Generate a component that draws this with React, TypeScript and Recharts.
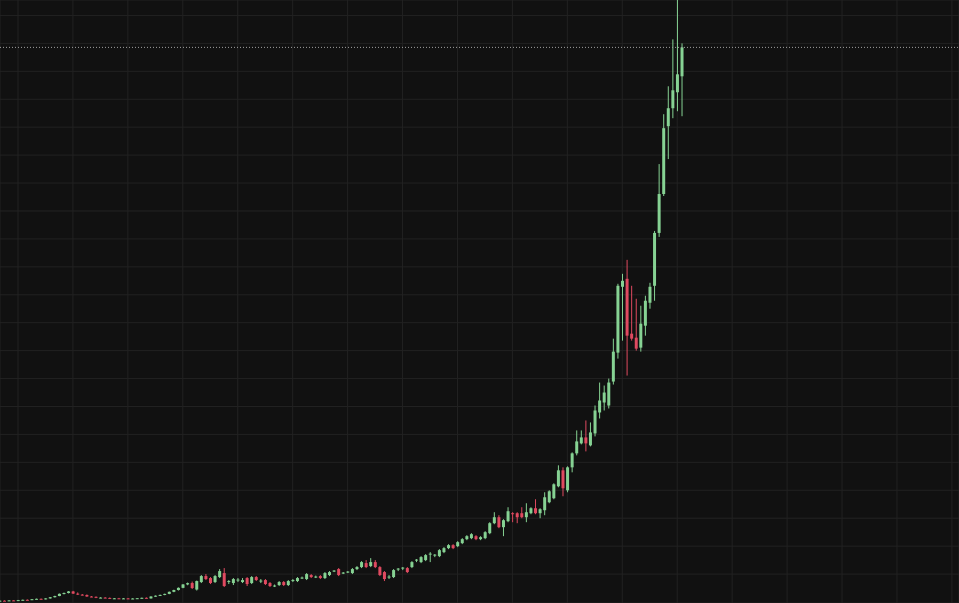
import {
  ComposedChart,
  Bar,
  XAxis,
  YAxis,
  CartesianGrid,
  ReferenceLine,
} from "recharts";

// weekly candles, oldest first (price in chart units)
const opens = [
  1.0, 1.3, 1.2, 1.6, 1.5, 1.9, 2.2, 2.1, 2.8, 3.2,
  2.8, 3.6, 4.8, 6.0, 8.2, 9.0, 10.6, 8.4, 7.4, 7.0,
  5.5, 5.2, 4.2, 4.4, 4.1, 3.3, 3.7, 3.4, 3.6, 3.2,
  3.5, 3.8, 4.2, 3.6, 5.5, 6.3, 7.1, 8.1, 10.2, 12.0,
  14.2, 17.6, 19, 12.5, 20, 26, 24, 20, 25, 29,
  20, 19, 22, 20, 24, 19, 25, 21, 22, 19,
  16, 17, 20, 17, 21.5, 21, 24, 23, 27, 25,
  26, 24, 27, 30.5, 33, 28.5, 30, 29, 33, 35,
  39, 36, 40, 35, 30, 24.5, 25, 32.5, 33.5, 34,
  35, 41.5, 40, 42, 47.5, 46.5, 46, 50, 54, 57,
  56, 59, 63, 64, 66, 63, 64, 69, 79, 85,
  75, 81, 89, 89, 89, 85, 89, 94, 89, 92,
  100, 104, 116, 132, 112, 135, 149, 159, 165, 157,
  169, 190, 200, 197, 221, 250, 316, 324, 269, 265,
  255, 277, 300, 317, 370, 409, 477, 495, 511, 527,
];

const highs = [
  1.6, 1.7, 1.8, 2.0, 2.1, 2.4, 2.6, 3.0, 3.4, 3.5,
  3.8, 5.0, 6.3, 8.5, 9.5, 11.0, 11.2, 9.6, 8.0, 7.6,
  6.0, 5.6, 4.8, 4.9, 4.5, 4.0, 4.1, 3.9, 4.0, 3.8,
  4.0, 4.4, 4.6, 5.8, 6.6, 7.4, 8.4, 10.5, 12.3, 14.6,
  18.0, 19.5, 20.5, 21.5, 27, 28, 25, 27, 33, 34,
  22, 24, 24, 24, 25, 26, 26, 23, 23, 20,
  17.5, 21, 21, 22, 23, 25, 25.5, 29, 28, 26.5,
  27, 30, 31, 32, 34, 30, 31, 34, 36, 41,
  42, 44, 42, 36, 31, 27, 33, 34, 35, 35,
  41, 43, 46, 48, 50, 48, 53, 55, 58, 58,
  61, 64, 67, 69, 67, 66, 71, 80, 90, 87,
  83, 95, 90, 90, 95, 99, 95, 103, 94, 110,
  112, 119, 137, 135, 136, 150, 172, 172, 182, 180,
  197, 220, 217, 224, 264, 319, 329, 343, 317, 304,
  297, 307, 320, 372, 439, 489, 517, 564, 615, 560,
];

const lows = [
  0.6, 1.0, 1.0, 1.3, 1.3, 1.6, 1.9, 1.9, 2.5, 2.6,
  2.6, 3.4, 4.5, 5.8, 7.6, 8.6, 8.0, 7.0, 6.6, 5.2,
  4.8, 3.9, 3.8, 3.9, 3.0, 3.0, 3.2, 3.0, 3.1, 2.9,
  3.2, 3.4, 3.4, 3.4, 5.2, 6.0, 6.8, 7.8, 9.8, 11.5,
  13.8, 16.8, 13, 11.5, 19, 22, 18, 19, 24, 15,
  18, 17, 20, 19, 16, 18, 21, 19, 17, 15,
  15, 16, 16, 16, 20, 20, 23, 22, 24, 24,
  23, 23, 26, 30, 26, 28, 29, 28, 32, 34,
  34, 35, 34, 26, 21, 23, 24, 31, 32, 29,
  34, 40, 39, 41, 40, 45, 45, 49, 53, 53,
  55, 58, 62, 63, 62, 62, 63, 68, 78, 74,
  66, 80, 80, 79, 84, 80, 88, 88, 84, 87,
  99, 103, 115, 106, 110, 130, 147, 158, 151, 156,
  166, 184, 192, 194, 218, 244, 262, 227, 262, 252,
  251, 267, 294, 302, 366, 407, 444, 485, 492, 487,
];

const closes = [
  1.3, 1.2, 1.6, 1.5, 1.9, 2.2, 2.1, 2.8, 3.2, 2.8,
  3.6, 4.8, 6.0, 8.2, 9.0, 10.6, 8.4, 7.4, 7.0, 5.5,
  5.2, 4.2, 4.4, 4.1, 3.3, 3.7, 3.4, 3.6, 3.2, 3.5,
  3.8, 4.2, 3.6, 5.5, 6.3, 7.1, 8.1, 10.2, 12.0, 14.2,
  17.6, 18.9, 14, 21, 26, 23, 19, 26, 31, 16,
  21, 23, 22.5, 22, 18, 25, 22, 21.5, 18, 16,
  16.5, 20, 17, 21, 22, 24, 24.5, 28, 25, 25.5,
  24, 29, 30, 31.5, 27, 29.5, 30.5, 33, 35, 40,
  35, 40, 35, 27, 23, 25.5, 32, 33.5, 34.5, 30,
  40, 42.5, 45, 47, 48.5, 47.5, 52, 54, 57, 54,
  60, 63, 66, 68, 63, 65, 70, 79, 85, 75,
  82, 91, 88, 85, 85, 90, 94, 89, 93, 105,
  111, 118, 132, 114, 135, 149, 161, 165, 159, 170,
  192, 202, 210, 220, 251, 317, 322, 267, 264, 254,
  279, 302, 316, 370, 409, 475, 495, 513, 529, 556,
];

// grid positions (week index / price)
const xTicks = [4, 16, 28, 40, 52, 64, 76, 88, 100, 112, 124, 136, 148, 160, 172, 184, 196, 208];
const yTicks = [0, 28, 56, 84, 112, 140, 168, 196, 224, 252, 280, 308, 336, 364, 392, 420, 448, 476, 504, 532, 560, 588];

const UP = "#86d293";
const DOWN = "#e04a60";

const data = opens.map((open, i) => ({
  i,
  open,
  close: closes[i],
  high: highs[i],
  low: lows[i],
  range: [lows[i], highs[i]],
}));

function Candle(props: any) {
  const { x, y, width, height, payload } = props;
  const { open, close, high, low } = payload;
  const color = close >= open ? UP : DOWN;
  const top = Math.min(y, y + height);
  const h = Math.abs(height);
  const ratio = h / (high - low);
  const bodyTop = top + (high - Math.max(open, close)) * ratio;
  const bodyH = Math.max(1, Math.abs(close - open) * ratio);
  const cx = x + width / 2;
  return (
    <g>
      <line x1={cx} x2={cx} y1={top} y2={top + h} stroke={color} strokeWidth={1} />
      <rect x={x} y={bodyTop} width={width} height={bodyH} fill={color} />
    </g>
  );
}

export default function App() {
  return (
    <div style={{ position: "fixed", top: 0, left: 0, width: 959, height: 603, background: "#111111" }}>
      <ComposedChart width={959} height={603} data={data} margin={{ top: 0, right: 0, bottom: 0, left: 0 }}>
        <CartesianGrid stroke="#222222" />
        <XAxis
          hide
          type="number"
          dataKey="i"
          domain={[0.068, 209.55]}
          allowDataOverflow
          ticks={xTicks}
        />
        <YAxis hide domain={[-1, 603.5]} allowDataOverflow ticks={yTicks} />
        <ReferenceLine y={closes[closes.length - 1]} stroke="#a0a0a0" strokeDasharray="1 2" />
        <Bar dataKey="range" shape={Candle} barSize={3} isAnimationActive={false} />
      </ComposedChart>
    </div>
  );
}
